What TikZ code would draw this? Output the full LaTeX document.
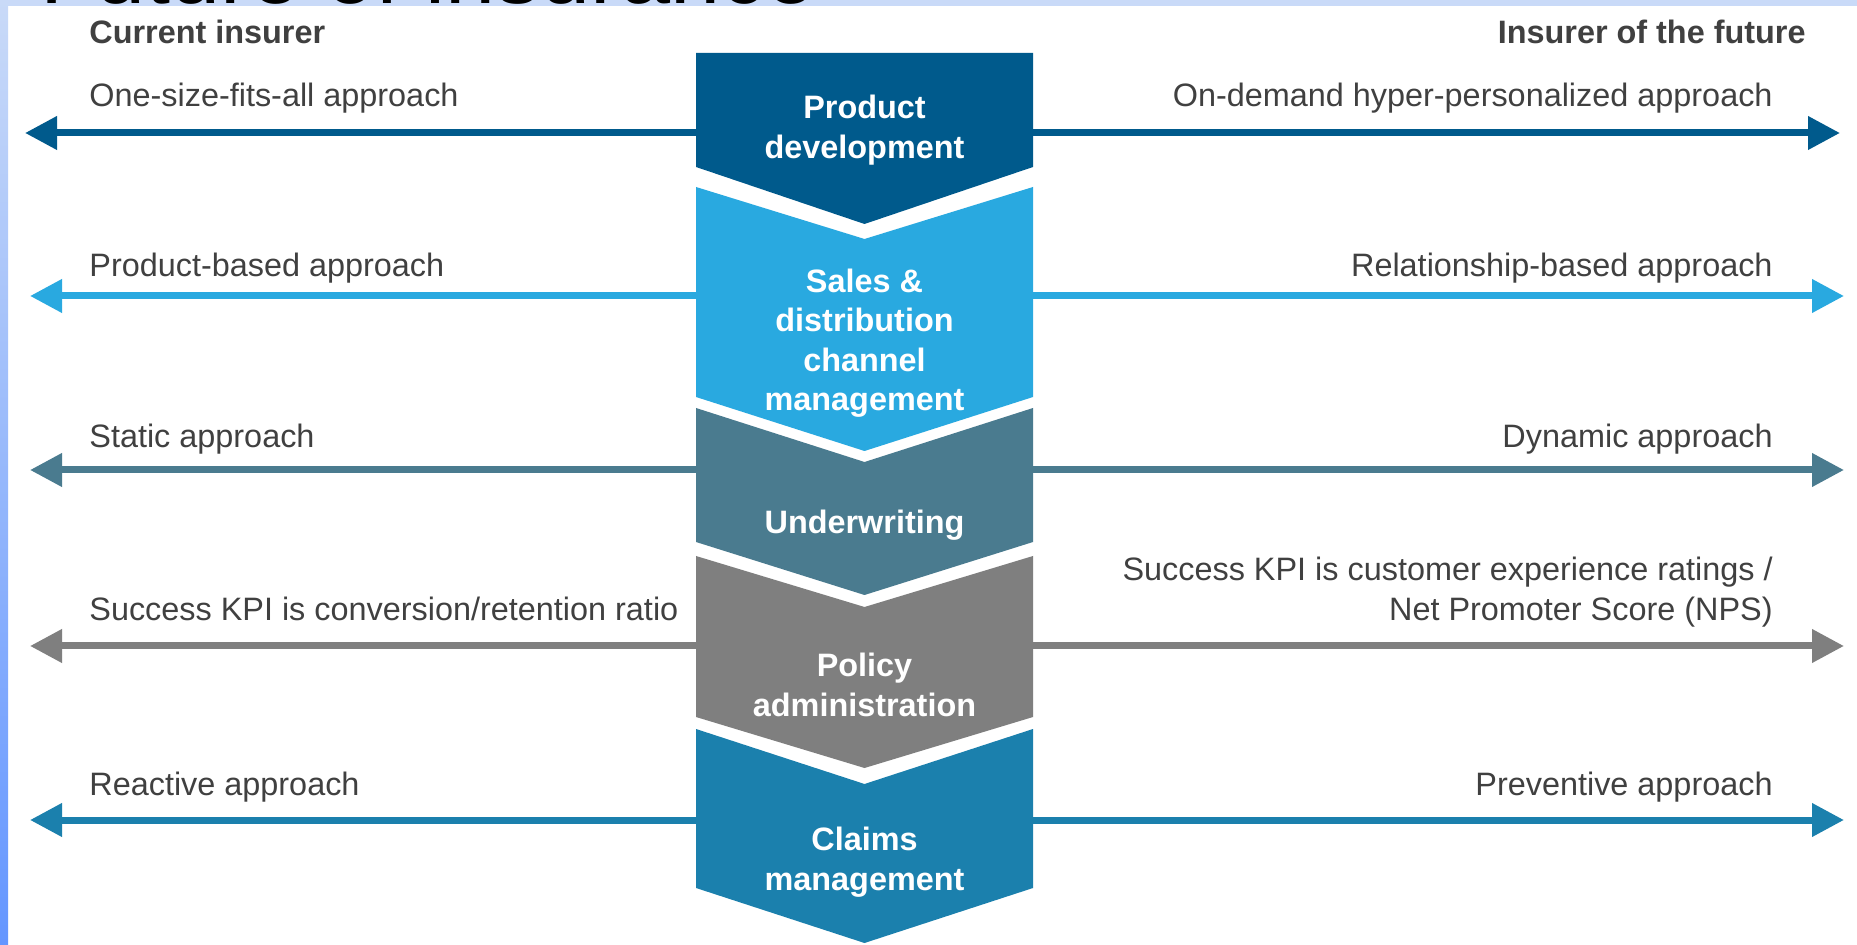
\documentclass[tikz,border=0pt]{standalone}
\usepackage{fontspec}
\setmainfont{Liberation Sans}
\usetikzlibrary{arrows.meta}
\definecolor{prodblue}{RGB}{0,90,140}
\definecolor{salesblue}{RGB}{41,169,224}
\definecolor{uwteal}{RGB}{74,123,143}
\definecolor{polgray}{RGB}{127,127,127}
\definecolor{claimblue}{RGB}{27,128,173}
\definecolor{txtgray}{RGB}{64,64,64}
\definecolor{framebg}{RGB}{201,218,248}
\definecolor{framedeep}{RGB}{100,150,255}
\newcommand{\sz}{\fontsize{16.2}{19.75}\selectfont}
\tikzset{
  txt/.style={text=txtgray,inner sep=0pt},
  lbl/.style={text=white,font=\sz\bfseries,align=center,inner sep=0pt,minimum width=168.5pt},
  track/.style={draw=#1,line width=3.5pt,-{Triangle[length=16pt,width=16pt]}},
}
\begin{document}
\begin{tikzpicture}[x=0.5pt,y=-0.5pt,font=\sz]
\useasboundingbox (0,0) rectangle (1857,945);
% screenshot frame
\fill[white] (0,0) rectangle (1857,945);
\fill[framebg] (0,0) rectangle (1857,6);
\shade[top color=framebg,bottom color=framedeep] (0,0) rectangle (8,945);
\begin{scope}
  \clip (8,0) rectangle (1857,6);
  \node[anchor=base west,inner sep=0pt,font=\fontsize{45}{50}\selectfont] (title) at (40,4) {Future of insurance};
\end{scope}
% headers
\node[txt,font=\sz\bfseries,anchor=west] (cur) at (89,32) {Current insurer};
\node[txt,font=\sz\bfseries,anchor=east] (fut) at (1806,32) {Insurer of the future};
% chevrons
\fill[prodblue] (696,53) -- (1033,53) -- (1033,167) -- (864.5,224) -- (696,167) -- cycle;
\fill[salesblue] (696,187) -- (864.5,239) -- (1033,187) -- (1033,397) -- (864.5,451) -- (696,397) -- cycle;
\fill[uwteal] (696,408) -- (864.5,462) -- (1033,408) -- (1033,542) -- (864.5,595) -- (696,542) -- cycle;
\fill[polgray] (696,556) -- (864.5,607) -- (1033,556) -- (1033,717) -- (864.5,768) -- (696,717) -- cycle;
\fill[claimblue] (696,729) -- (864.5,784) -- (1033,729) -- (1033,888) -- (864.5,943) -- (696,888) -- cycle;
\node[lbl] (pd) at (864.5,130) {Product\\development};
\node[lbl] (sd) at (864.5,343) {Sales \&\\distribution\\channel\\management};
\node[lbl] (uw) at (864.5,525) {Underwriting};
\node[lbl] (pa) at (864.5,685) {Policy\\administration};
\node[lbl] (cm) at (864.5,862) {Claims\\management};
% left and right texts
\node[txt,anchor=west] (pdcur) at (89,98) {One-size-fits-all approach};
\node[txt,anchor=east] (pdfut) at (1773,98) {On-demand hyper-personalized approach};
\node[txt,anchor=west] (sdcur) at (89,268) {Product-based approach};
\node[txt,anchor=east] (sdfut) at (1773,268) {Relationship-based approach};
\node[txt,anchor=west] (uwcur) at (89,439) {Static approach};
\node[txt,anchor=east] (uwfut) at (1773,439) {Dynamic approach};
\node[txt,anchor=west] (pacur) at (89,609) {Success KPI is conversion/retention ratio};
\node[txt,anchor=east,align=right] (pafut) at (1773,592) {Success KPI is customer experience ratings /\\Net Promoter Score (NPS)};
\node[txt,anchor=west] (cmcur) at (89,787) {Reactive approach};
\node[txt,anchor=east] (cmfut) at (1773,787) {Preventive approach};
% arrows
\foreach \n/\y/\c/\l/\r in {pd/133/prodblue/25/1840,sd/296/salesblue/30/1844,uw/470/uwteal/30/1844,pa/646/polgray/30/1844,cm/820/claimblue/30/1844}{
  \coordinate (\n-l) at (\l,\y);
  \coordinate (\n-r) at (\r,\y);
  \draw[track=\c] (\n.west |- \n-l) -- (\n-l);
  \draw[track=\c] (\n.east |- \n-r) -- (\n-r);
}
\end{tikzpicture}
\end{document}
